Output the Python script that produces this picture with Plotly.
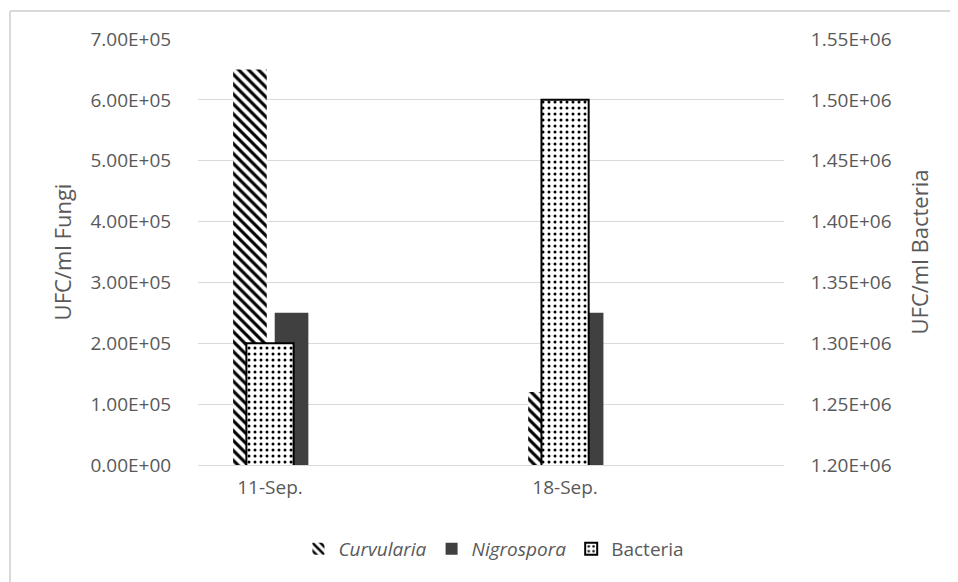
import plotly.graph_objects as go

categories = ["11-Sep.", "18-Sep."]
curvularia = [650000, 120000]
nigrospora = [250000, 250000]
bacteria = [1300000, 1500000]

left_tickvals = [0, 100000, 200000, 300000, 400000, 500000, 600000, 700000]
left_ticktext = ["0.00E+00", "1.00E+05", "2.00E+05", "3.00E+05", "4.00E+05", "5.00E+05", "6.00E+05", "7.00E+05"]
right_tickvals = [1200000, 1250000, 1300000, 1350000, 1400000, 1450000, 1500000, 1550000]
right_ticktext = ["1.20E+06", "1.25E+06", "1.30E+06", "1.35E+06", "1.40E+06", "1.45E+06", "1.50E+06", "1.55E+06"]

FONT = "Open Sans"
GREY = "#595959"

fig = go.Figure()
fig.add_trace(go.Bar(
    x=categories, y=curvularia, name="<i>Curvularia</i>",
    width=0.114, offset=-0.125,
    marker=dict(color="white", line=dict(width=0),
                pattern=dict(shape="\\", fgcolor="black", bgcolor="white", size=7, solidity=0.45, fgopacity=1)),
))
fig.add_trace(go.Bar(
    x=categories, y=nigrospora, name="<i>Nigrospora</i>",
    width=0.114, offset=0.016,
    marker=dict(color="#404040", line=dict(width=0)),
))
fig.add_trace(go.Bar(
    x=categories, y=bacteria, name="Bacteria", yaxis="y2",
    width=0.16, offset=-0.08,
    marker=dict(color="white", line=dict(color="black", width=2),
                pattern=dict(shape=".", fgcolor="black", bgcolor="white", size=6, solidity=0.2, fgopacity=1)),
))

fig.update_layout(
    width=950, height=574,
    margin=dict(l=190, r=174, t=31, b=117),
    paper_bgcolor="white", plot_bgcolor="white",
    barmode="overlay",
    font=dict(family=FONT, size=19, color=GREY),
    showlegend=True,
    legend=dict(orientation="h", x=0.505, xanchor="center", y=-0.197, yanchor="middle",
                font=dict(family=FONT, size=19, color=GREY), itemwidth=30),
    xaxis=dict(type="category", range=[-0.244, 1.742], showgrid=False, showline=False,
               zeroline=False, ticks="outside", ticklen=5, tickcolor="rgba(0,0,0,0)",
               tickfont=dict(size=19, color=GREY)),
    yaxis=dict(range=[0, 700000], tickvals=left_tickvals, ticktext=left_ticktext,
               showgrid=True, gridcolor="#d9d9d9", gridwidth=1.3,
               zeroline=True, zerolinecolor="#d9d9d9", zerolinewidth=1.3,
               showline=False, ticks="outside", ticklen=22, tickcolor="rgba(0,0,0,0)",
               tickfont=dict(size=19, color=GREY),
               title=dict(text="UFC/ml Fungi", font=dict(size=22, color=GREY), standoff=12)),
    yaxis2=dict(range=[1200000, 1550000], tickvals=right_tickvals, ticktext=right_ticktext,
                overlaying="y", side="right", showgrid=False, zeroline=False, showline=False,
                ticks="outside", ticklen=22, tickcolor="rgba(0,0,0,0)",
                tickfont=dict(size=19, color=GREY),
                title=dict(text="UFC/ml Bacteria", font=dict(size=22, color=GREY), standoff=22)),
    shapes=[
        dict(type="line", xref="paper", yref="paper", x0=-0.3208, x1=1.32, y0=1.0657, y1=1.0657,
             line=dict(color="#d9d9d9", width=2), layer="below"),
        dict(type="line", xref="paper", yref="paper", x0=-0.3208, x1=-0.3208, y0=-0.3, y1=1.0657,
             line=dict(color="#d9d9d9", width=2), layer="below"),
    ],
)

fig.write_html("out.html")
